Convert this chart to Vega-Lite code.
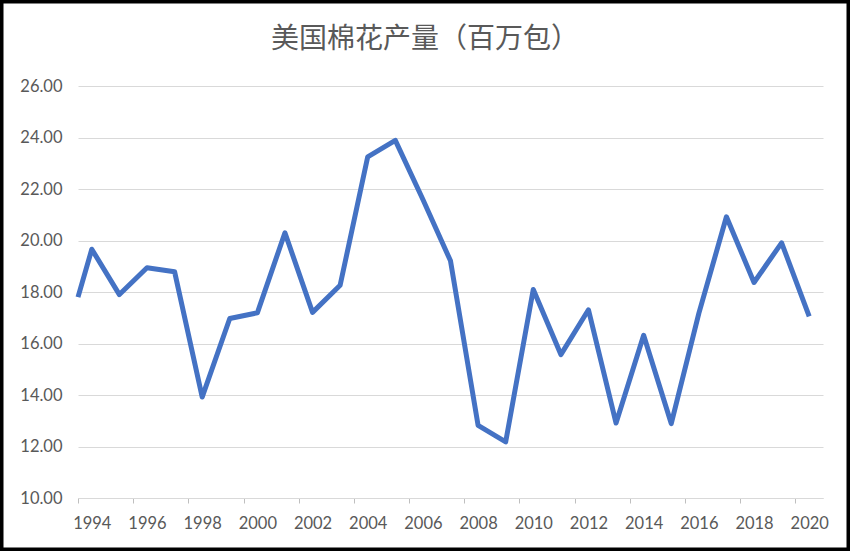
{
  "$schema": "https://vega.github.io/schema/vega-lite/v6.json",
  "width": 850,
  "height": 551,
  "autosize": {"type": "none"},
  "padding": 0,
  "background": "white",
  "title": {
    "text": "美国棉花产量（百万包）",
    "font": "Noto Sans CJK SC",
    "fontSize": 28,
    "fontWeight": "normal",
    "color": "#595959",
    "anchor": "middle",
    "frame": "group",
    "baseline": "alphabetic",
    "offset": -48,
    "dy": 28
  },
  "data": {
    "values": [
      {"year": 1993.5, "value": 17.8},
      {"year": 1994, "value": 19.66},
      {"year": 1995, "value": 17.9},
      {"year": 1996, "value": 18.94},
      {"year": 1997, "value": 18.79},
      {"year": 1998, "value": 13.92},
      {"year": 1999, "value": 16.97},
      {"year": 2000, "value": 17.19},
      {"year": 2001, "value": 20.3},
      {"year": 2002, "value": 17.21},
      {"year": 2003, "value": 18.26},
      {"year": 2004, "value": 23.25},
      {"year": 2005, "value": 23.89},
      {"year": 2006, "value": 21.59},
      {"year": 2007, "value": 19.21},
      {"year": 2008, "value": 12.82},
      {"year": 2009, "value": 12.18},
      {"year": 2010, "value": 18.1},
      {"year": 2011, "value": 15.57},
      {"year": 2012, "value": 17.31},
      {"year": 2013, "value": 12.91},
      {"year": 2014, "value": 16.32},
      {"year": 2015, "value": 12.89},
      {"year": 2016, "value": 17.17},
      {"year": 2017, "value": 20.92},
      {"year": 2018, "value": 18.37},
      {"year": 2019, "value": 19.91},
      {"year": 2020, "value": 17.05}
    ]
  },
  "mark": {"type": "line", "color": "#4472C4", "strokeWidth": 5, "strokeJoin": "round", "strokeCap": "butt"},
  "encoding": {
    "x": {
      "field": "year",
      "type": "quantitative",
      "scale": {"domain": [1993.5, 2020.5], "range": [78, 823], "nice": false, "zero": false},
      "axis": {
        "title": null,
        "orient": "bottom",
        "offset": -53,
        "values": [1994, 1996, 1998, 2000, 2002, 2004, 2006, 2008, 2010, 2012, 2014, 2016, 2018, 2020],
        "format": "d",
        "grid": false,
        "domainColor": "#d9d9d9",
        "domainWidth": 1,
        "tickColor": "#bfbfbf",
        "tickSize": 5,
        "tickOffset": -13.8,
        "labelOffset": 13.8,
        "labelPadding": 12,
        "labelFont": "Lato",
        "labelFontSize": 16.5,
        "labelColor": "#595959",
        "labelFlush": false,
        "labelOverlap": false
      }
    },
    "y": {
      "field": "value",
      "type": "quantitative",
      "scale": {"domain": [10, 26], "range": [498, 86], "nice": false, "zero": false},
      "axis": {
        "title": null,
        "orient": "left",
        "offset": -78,
        "values": [10, 12, 14, 16, 18, 20, 22, 24, 26],
        "format": ".2f",
        "domain": false,
        "ticks": false,
        "tickSize": 0,
        "grid": true,
        "gridColor": "#d9d9d9",
        "gridWidth": 1,
        "labelPadding": 16,
        "labelFont": "Lato",
        "labelFontSize": 16.5,
        "labelColor": "#595959",
        "labelFlush": false,
        "labelOverlap": false
      }
    }
  },
  "config": {"view": {"stroke": "black", "strokeWidth": 7, "fill": "white"}}
}
